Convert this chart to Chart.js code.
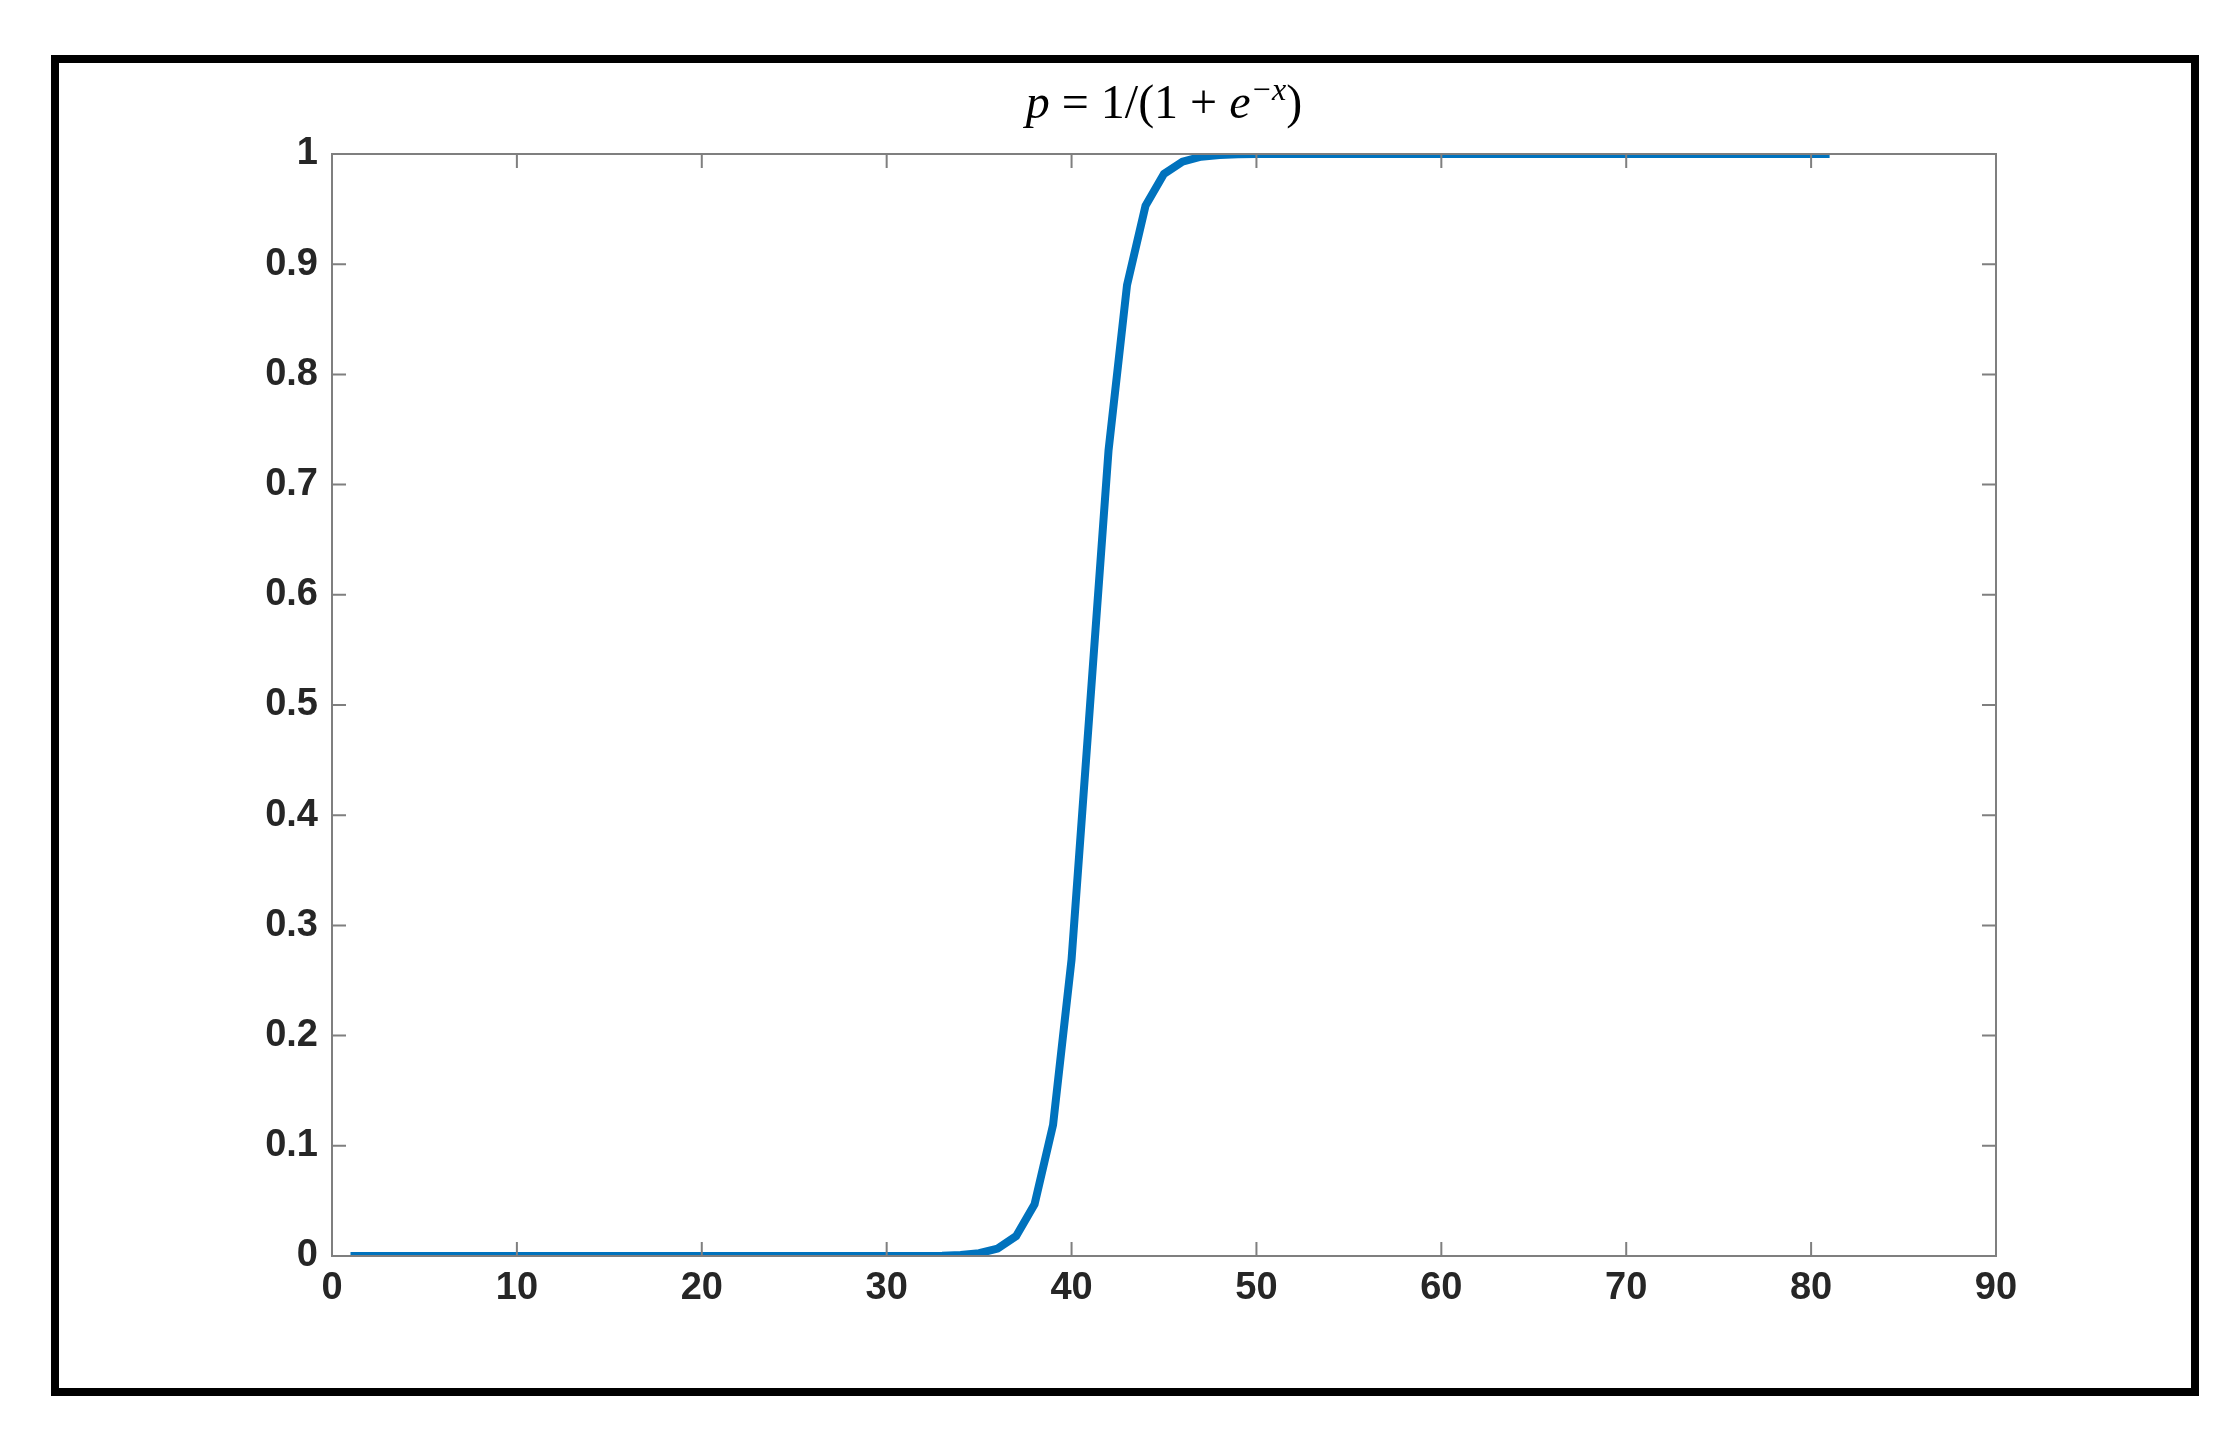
<!DOCTYPE html>
<html>
<head>
<meta charset="utf-8">
<script src="https://cdn.jsdelivr.net/npm/chart.js@4"></script>
<style>
  html, body { margin: 0; padding: 0; background: #fff; }
  #wrap { width: 2240px; height: 1435px; position: relative; }
</style>
</head>
<body>
<div id="wrap"><canvas id="grafico" width="2240" height="1435"></canvas></div>
<script>
// x values (1..81) and probabilities
const xs = [1,2,3,4,5,6,7,8,9,10,11,12,13,14,15,16,17,18,19,20,
  21,22,23,24,25,26,27,28,29,30,31,32,33,34,35,36,37,38,39,40,
  41,42,43,44,45,46,47,48,49,50,51,52,53,54,55,56,57,58,59,60,
  61,62,63,64,65,66,67,68,69,70,71,72,73,74,75,76,77,78,79,80,81];
const ps = [0,0,0,0,0,0,0,0,0,0,0,0,0,0,0,0,0,0,0,0,
  0,0,0,0,0,0,0,0,0,0,0,0.0001,0.0003,0.0009,0.0025,0.0067,0.018,0.047,0.119,0.269,
  0.5,0.731,0.881,0.953,0.982,0.993,0.9975,0.9991,0.9997,1,1,1,1,1,1,1,1,1,1,1,
  1,1,1,1,1,1,1,1,1,1,1,1,1,1,1,1,1,1,1,1,1];
const xTicks = [0,10,20,30,40,50,60,70,80,90];
const yTicks = [0,0.1,0.2,0.3,0.4,0.5,0.6,0.7,0.8,0.9,1];

// title pieces: [text, italic, superscript]
const tituloPartes = [["p", true, false], [" = 1/(1 + ", false, false], ["e", true, false],
  ["\u2212x", true, true], [")", false, false]];

const marcoPlugin = {
  id: "marco",
  afterDatasetsDraw(chart) {
    const { ctx, chartArea: a, scales } = chart;
    ctx.save();
    // box with inward ticks (matlab style)
    ctx.strokeStyle = "#7f7f7f";
    ctx.lineWidth = 2;
    ctx.strokeRect(a.left, a.top, a.right - a.left, a.bottom - a.top);
    ctx.beginPath();
    xTicks.forEach(v => {
      const px = scales.x.getPixelForValue(v);
      ctx.moveTo(px, a.bottom); ctx.lineTo(px, a.bottom - 14);
      ctx.moveTo(px, a.top); ctx.lineTo(px, a.top + 14);
    });
    yTicks.forEach(v => {
      const py = scales.y.getPixelForValue(v);
      ctx.moveTo(a.left, py); ctx.lineTo(a.left + 14, py);
      ctx.moveTo(a.right, py); ctx.lineTo(a.right - 14, py);
    });
    ctx.stroke();
    // outer black frame
    ctx.strokeStyle = "#000";
    ctx.lineWidth = 8;
    ctx.strokeRect(55, 59, 2140, 1333);
    // title
    ctx.fillStyle = "#000";
    ctx.textBaseline = "alphabetic";
    ctx.textAlign = "left";
    const fuente = (p) => (p[1] ? "italic " : "") + (p[2] ? "32px" : "48px") + " 'Liberation Serif'";
    let total = 0;
    tituloPartes.forEach(p => { ctx.font = fuente(p); total += ctx.measureText(p[0]).width; });
    let x = (a.left + a.right) / 2 - total / 2;
    tituloPartes.forEach(p => {
      ctx.font = fuente(p);
      ctx.fillText(p[0], x, p[2] ? 100 : 118);
      x += ctx.measureText(p[0]).width;
    });
    ctx.restore();
  }
};

const ctx = document.getElementById("grafico").getContext("2d");
const fuenteTicks = { family: "Liberation Sans", weight: "bold", size: 38 };
new Chart(ctx, {
  type: "line",
  data: {
    datasets: [{
      data: xs.map((x, i) => ({ x: x, y: ps[i] })),
      borderColor: "#0072BD",
      borderWidth: 8,
      pointRadius: 0,
      tension: 0,
      fill: false
    }]
  },
  options: {
    responsive: false,
    animation: false,
    layout: { padding: { left: 212, right: 244, top: 154, bottom: 113 } },
    plugins: { legend: { display: false }, tooltip: { enabled: false } },
    scales: {
      x: {
        type: "linear", min: 0, max: 90,
        afterBuildTicks: s => { s.ticks = xTicks.map(v => ({ value: v })); },
        afterFit: s => { s.height = 66; },
        grid: { display: false, drawTicks: false },
        border: { display: false },
        ticks: { color: "#262626", font: fuenteTicks, padding: 10 }
      },
      y: {
        min: 0, max: 1,
        afterBuildTicks: s => { s.ticks = yTicks.map(v => ({ value: v })); },
        afterFit: s => { s.width = 120; },
        grid: { display: false, drawTicks: false },
        border: { display: false },
        ticks: { color: "#262626", font: fuenteTicks, padding: 14,
          callback: v => String(Math.round(v * 10) / 10) }
      }
    }
  },
  plugins: [marcoPlugin]
});
</script>
</body>
</html>
